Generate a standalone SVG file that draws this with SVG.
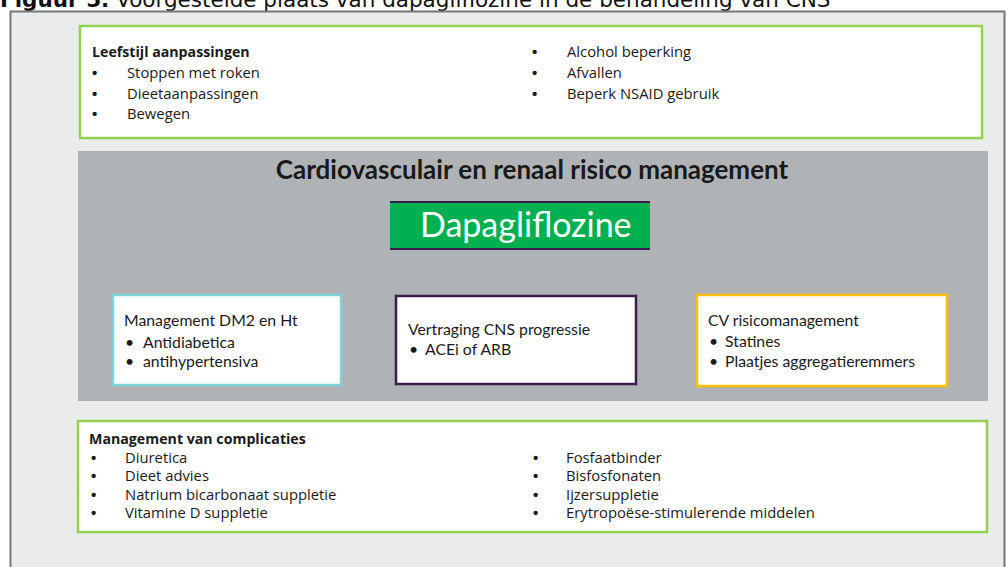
<svg xmlns="http://www.w3.org/2000/svg" width="1008" height="567" viewBox="0 0 1008 567">
  <style>
    .caption { font-family: "DejaVu Sans", Verdana, sans-serif; font-size: 21.5px; fill: #111; }
    .list { font-family: "Open Sans", "Liberation Sans", sans-serif; font-size: 14.8px; fill: #1a1a1a; }
    .list-head { font-family: "Open Sans", "Liberation Sans", sans-serif; font-size: 14.2px; font-weight: 700; fill: #1a1a1a; }
    .dot { font-family: "Liberation Sans", sans-serif; font-size: 15px; font-weight: 700; fill: #1a1a1a; }
    .band-title { font-family: Lato, "Liberation Sans", sans-serif; font-size: 26px; font-weight: 700; fill: #1a1a1a; }
    .drug { font-family: Lato, "Liberation Sans", sans-serif; font-size: 34px; fill: #ffffff; }
    .card { font-family: Lato, "Liberation Sans", sans-serif; font-size: 15.8px; fill: #1a1a1a; }
    .green-box { fill: #ffffff; stroke: #92d050; stroke-width: 2.5; }
    .card-box { fill: #ffffff; stroke-width: 2.5; }
  </style>

  <!-- caption above the figure -->
  <text class="caption" x="0" y="7"><tspan font-weight="700">Figuur 5.</tspan> Voorgestelde plaats van dapagliflozine in de behandeling van CNS</text>

  <!-- figure frame -->
  <rect id="frame" x="10.5" y="11.5" width="994" height="560" fill="#e9eceb" stroke="#777" stroke-width="2"/>

  <!-- lifestyle measures -->
  <g id="lifestyle">
    <rect class="green-box" x="80" y="26" width="902" height="112"/>
    <text class="list-head" x="92" y="57">Leefstijl aanpassingen</text>
    <g class="dot">
      <text x="92" y="78">•</text>
      <text x="92" y="99">•</text>
      <text x="92" y="119">•</text>
      <text x="532" y="57">•</text>
      <text x="532" y="78">•</text>
      <text x="532" y="99">•</text>
    </g>
    <g class="list">
      <text x="127" y="78">Stoppen met roken</text>
      <text x="127" y="99">Dieetaanpassingen</text>
      <text x="127" y="119">Bewegen</text>
      <text x="567" y="57">Alcohol beperking</text>
      <text x="567" y="78">Afvallen</text>
      <text x="567" y="99">Beperk NSAID gebruik</text>
    </g>
  </g>

  <!-- cardiovascular and renal risk management band -->
  <g id="risk-band">
    <rect x="78" y="151" width="910" height="250" fill="#b0b3b5"/>
    <text class="band-title" x="532" y="179" text-anchor="middle">Cardiovasculair en renaal risico management</text>
  </g>

  <g id="dapagliflozine">
    <rect x="390" y="202" width="260" height="47" fill="#00b050"/>
    <line x1="390" y1="202" x2="650" y2="202" stroke="#3b1e4e" stroke-width="2"/>
    <line x1="390" y1="249" x2="650" y2="249" stroke="#3b1e4e" stroke-width="2"/>
    <text class="drug" x="420" y="237">Dapagliflozine</text>
  </g>

  <g id="dm2-ht">
    <rect class="card-box" x="113" y="295" width="228" height="90" stroke="#7fd3d9"/>
    <text class="card" x="124" y="326">Management DM2 en Ht</text>
    <text class="card" x="125" y="348">•</text><text class="card" x="143" y="348">Antidiabetica</text>
    <text class="card" x="125" y="367">•</text><text class="card" x="143" y="367">antihypertensiva</text>
  </g>

  <g id="cns-progression">
    <rect class="card-box" x="396" y="296" width="240" height="88" stroke="#3b1a4c"/>
    <text class="card" x="408" y="335">Vertraging CNS progressie</text>
    <text class="card" x="409" y="355">•</text><text class="card" x="425" y="355">ACEi of ARB</text>
  </g>

  <g id="cv-risk">
    <rect class="card-box" x="697" y="295" width="250" height="91" stroke="#ffc000"/>
    <text class="card" x="708" y="326">CV risicomanagement</text>
    <text class="card" x="709" y="347">•</text><text class="card" x="725" y="347">Statines</text>
    <text class="card" x="709" y="367">•</text><text class="card" x="725" y="367">Plaatjes aggregatieremmers</text>
  </g>

  <!-- management of complications -->
  <g id="complications">
    <rect class="green-box" x="78" y="421" width="909" height="111"/>
    <text class="list-head" x="89" y="444">Management van complicaties</text>
    <g class="dot">
      <text x="91" y="463">•</text>
      <text x="91" y="481">•</text>
      <text x="91" y="500">•</text>
      <text x="91" y="518">•</text>
      <text x="533" y="463">•</text>
      <text x="533" y="481">•</text>
      <text x="533" y="500">•</text>
      <text x="533" y="518">•</text>
    </g>
    <g class="list">
      <text x="125" y="463">Diuretica</text>
      <text x="125" y="481">Dieet advies</text>
      <text x="125" y="500">Natrium bicarbonaat suppletie</text>
      <text x="125" y="518">Vitamine D suppletie</text>
      <text x="566" y="463">Fosfaatbinder</text>
      <text x="566" y="481">Bisfosfonaten</text>
      <text x="566" y="500">Ijzersuppletie</text>
      <text x="566" y="518">Erytropoëse-stimulerende middelen</text>
    </g>
  </g>
</svg>
